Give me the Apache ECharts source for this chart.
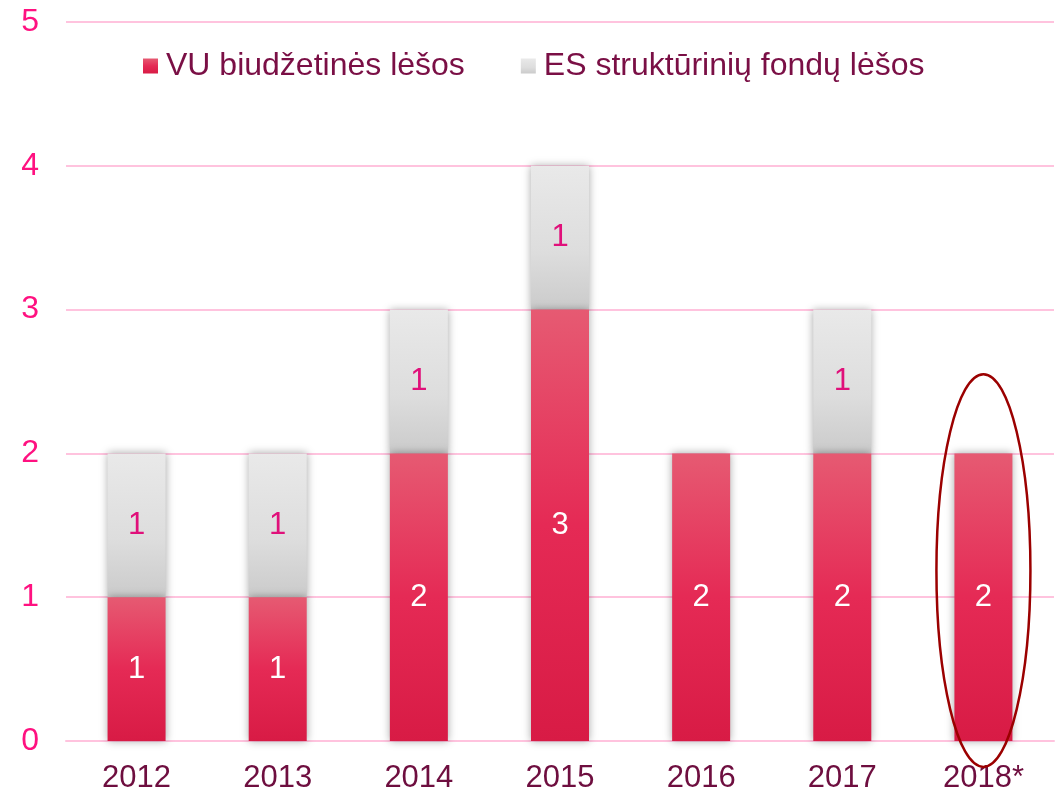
<!DOCTYPE html>
<html>
<head>
<meta charset="utf-8">
<script src="https://cdn.jsdelivr.net/npm/echarts@6/dist/echarts.min.js"></script>
<style>
  html, body { margin: 0; padding: 0; background: #fff; }
  #chart { width: 1055px; height: 791px; }
</style>
</head>
<body>
<div id="chart"></div>
<script>
const years = ['2012', '2013', '2014', '2015', '2016', '2017', '2018*']
const vuFunds = [1, 1, 2, 3, 2, 2, 2]
const esFunds = [1, 1, 1, 1, null, 1, null]
const seriesNames = ['VU biudžetinės lėšos', 'ES struktūrinių fondų lėšos']
// highlighted year and the vertical span of its ring (axis units)
const markedYear = '2018*'
const markedSpan = [-0.18, 2.55]

const font = 'Liberation Sans, Arial, sans-serif'

const chart = echarts.init(document.getElementById('chart'))

const redFill = new echarts.graphic.LinearGradient(0, 0, 0, 1, [
  { offset: 0, color: '#E65A72' },
  { offset: 0.5, color: '#E52A55' },
  { offset: 1, color: '#D81B45' }
])
const greyFill = new echarts.graphic.LinearGradient(0, 0, 0, 1, [
  { offset: 0, color: '#E9E9E9' },
  { offset: 0.6, color: '#DDDDDD' },
  { offset: 1, color: '#CBCBCB' }
])

const barShadow = {
  shadowBlur: 8,
  shadowColor: 'rgba(0, 0, 0, 0.35)',
  shadowOffsetX: 0,
  shadowOffsetY: 0
}

const option = {
  animation: false,
  textStyle: { fontFamily: font },
  legend: {
    data: seriesNames,
    left: 138,
    top: 45,
    itemWidth: 15,
    itemHeight: 15,
    itemGap: 56,
    icon: 'rect',
    textStyle: { fontSize: 32, color: '#7A0F45', fontFamily: font, padding: [0, 0, 0, 3] }
  },
  grid: { left: 66, right: 1, top: 22, bottom: 50, containLabel: false, outerBoundsMode: 'none' },
  xAxis: {
    type: 'category',
    data: years,
    axisLine: { lineStyle: { color: '#FFC3DE', width: 2 } },
    axisTick: { show: false },
    axisLabel: { fontSize: 31, color: '#6E0E3F', margin: 22, fontFamily: font }
  },
  yAxis: {
    type: 'value',
    min: 0,
    max: 5,
    interval: 1,
    axisLine: { show: false },
    axisTick: { show: false },
    axisLabel: { fontSize: 32, color: '#FF1180', margin: 27, fontFamily: font },
    splitLine: { lineStyle: { color: '#FFC3DE', width: 2 } }
  },
  series: [
    {
      name: seriesNames[0],
      type: 'bar',
      stack: 'total',
      barWidth: 58,
      data: vuFunds,
      itemStyle: Object.assign({ color: redFill }, barShadow),
      label: {
        show: true,
        position: 'inside',
        fontSize: 31,
        color: '#FFFFFF',
        fontFamily: font
      },
      z: 3
    },
    {
      name: seriesNames[1],
      type: 'bar',
      stack: 'total',
      barWidth: 58,
      data: esFunds,
      itemStyle: Object.assign({ color: greyFill }, barShadow),
      label: {
        show: true,
        position: 'inside',
        fontSize: 31,
        color: '#E0107A',
        fontFamily: font
      },
      z: 2
    },
    {
      type: 'custom',
      silent: true,
      z: 10,
      data: [[markedYear, markedSpan[0], markedSpan[1]]],
      renderItem: function (params, api) {
        const top = api.coord([api.value(0), api.value(2)])
        const bottom = api.coord([api.value(0), api.value(1)])
        const band = api.size([1, 0])[0]
        return {
          type: 'ellipse',
          shape: {
            cx: top[0],
            cy: (top[1] + bottom[1]) / 2,
            rx: band * 0.333,
            ry: (bottom[1] - top[1]) / 2
          },
          style: { fill: 'none', stroke: '#9B0000', lineWidth: 2.5 }
        }
      }
    }
  ]
}

chart.setOption(option)
</script>
</body>
</html>
